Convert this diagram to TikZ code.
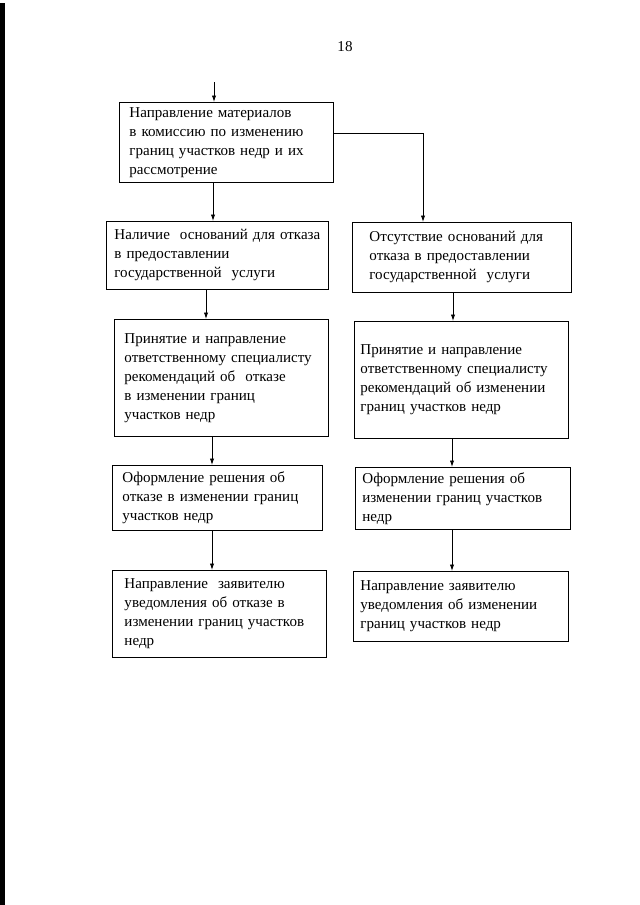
\documentclass[tikz,border=0pt]{standalone}
\usepackage{fontspec}
\setmainfont{Liberation Serif}
\usepackage{tikz}
\usetikzlibrary{arrows.meta, positioning}

\tikzset{
  blok/.style={draw, line width=0.8pt, anchor=north west, align=left,
    inner ysep=2pt, font=\fontsize{14}{17.7}\selectfont},
  strelka/.style={line width=0.8pt, -{Latex[length=6pt,width=4pt]}}
}

\begin{document}
\begin{tikzpicture}[x=0.93pt, y=-0.93pt]
\useasboundingbox (0,0) rectangle (640,905);
\fill[black] (0,3) rectangle (5,905);

\node[font=\fontsize{14}{16}\selectfont] (nomer) at (345,47) {18};

\node[blok, inner xsep=9.3pt, text width=180.4pt, minimum height=74.4pt] (b1) at (119,102)
  {Направление материалов\\в комиссию по изменению\\границ участков недр и их\\рассмотрение};

\node[blok, inner xsep=7.4pt, text width=191.6pt, minimum height=63.2pt] (b2l) at (106,221)
  {Наличие~ оснований для отказа\\в предоставлении\\государственной~ услуги};
\node[blok, inner xsep=15.8pt, text width=172.1pt, minimum height=65.1pt] (b2r) at (352,222)
  {Отсутствие оснований для\\отказа в предоставлении\\государственной~ услуги};

\node[blok, inner xsep=9.3pt, text width=180.4pt, minimum height=108.8pt] (b3l) at (114,319)
  {Принятие и направление\\ответственному специалисту\\рекомендаций об~ отказе\\в изменении границ\\участков недр};
\node[blok, inner xsep=5.6pt, text width=187.9pt, minimum height=108.8pt] (b3r) at (354,321)
  {Принятие и направление\\ответственному специалисту\\рекомендаций об изменении\\границ участков недр};

\node[blok, inner xsep=9.3pt, text width=176.7pt, minimum height=60.5pt] (b4l) at (112,465)
  {Оформление решения об\\отказе в изменении границ\\участков недр};
\node[blok, inner xsep=6.5pt, text width=186.9pt, minimum height=57.7pt] (b4r) at (355,467)
  {Оформление решения об\\изменении границ участков\\недр};

\node[blok, inner xsep=11.2pt, text width=176.7pt, minimum height=80.9pt] (b5l) at (112,570)
  {Направление~ заявителю\\уведомления об отказе в\\изменении границ участков\\недр};
\node[blok, inner xsep=6.5pt, text width=186.9pt, minimum height=65.1pt] (b5r) at (353,571)
  {Направление заявителю\\уведомления об изменении\\границ участков недр};

\coordinate (start) at (214,82);
\draw[strelka] (start) -- (b1.north -| start);
\draw[strelka] (b1.south -| 213,0) -- (b2l.north -| 213,0);
\draw[strelka] (b1.east |- 0,133) -| (b2r.north -| 423,0);
\draw[strelka] (b2l.south -| 206,0) -- (b3l.north -| 206,0);
\draw[strelka] (b2r.south -| 453,0) -- (b3r.north -| 453,0);
\draw[strelka] (b3l.south -| 212,0) -- (b4l.north -| 212,0);
\draw[strelka] (b3r.south -| 452,0) -- (b4r.north -| 452,0);
\draw[strelka] (b4l.south -| 212,0) -- (b5l.north -| 212,0);
\draw[strelka] (b4r.south -| 452,0) -- (b5r.north -| 452,0);
\end{tikzpicture}
\end{document}
